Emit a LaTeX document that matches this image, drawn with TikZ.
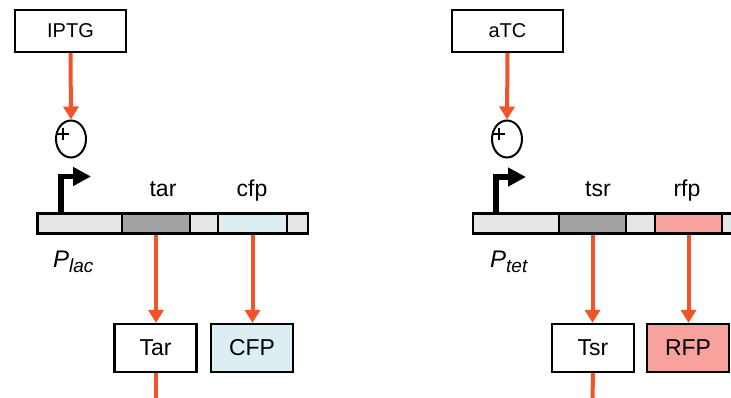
\documentclass[tikz,border=0pt]{standalone}
\usepackage{fontspec}
\setmainfont{Liberation Sans}
\usetikzlibrary{arrows.meta,shapes.geometric}
\definecolor{actarrow}{HTML}{F25327}
\definecolor{spacer}{HTML}{E6E6E6}
\definecolor{receptor}{HTML}{A3A3A3}
\definecolor{cfpfill}{HTML}{DDEEF3}
\definecolor{rfpfill}{HTML}{F7A29C}

\begin{document}
\begin{tikzpicture}[x=1pt,y=-1pt,
  inducer/.style={draw,line width=2.2pt,minimum width=111pt,minimum height=42pt,inner sep=0pt,
    font=\fontsize{20}{24}\selectfont},
  protein/.style={draw,line width=2.2pt,minimum width=82pt,minimum height=48pt,inner sep=0pt,
    font=\fontsize{23}{27}\selectfont},
  seg/.style={draw,line width=2.2pt,minimum height=20pt,inner sep=0pt,fill=spacer},
  genelabel/.style={anchor=base,inner sep=0pt,font=\fontsize{23}{27}\selectfont},
  promlabel/.style={anchor=base west,inner sep=0pt,font=\fontsize{24}{28}\selectfont\itshape},
  operator/.style={draw,ellipse,line width=2pt,minimum width=30pt,minimum height=37pt,inner sep=0pt},
  activate/.style={draw=actarrow,line width=4pt,-{Triangle[length=13pt,width=15pt]}},
  flow/.style={draw=actarrow,line width=4pt},
  promoter/.style={draw,line width=5.5pt,-{Triangle[length=18pt,width=18pt]}},
  plusmark/.style={draw,line width=2pt}
]
\clip (0,0) rectangle (731,397);

% ---------- lac module ----------
\node[inducer] (iptg) at (70.5,31) {IPTG};
\node[operator] (oplac) at (71,139) {};
\draw[plusmark] (57,134) -- (69,134) (63,128) -- (63,140);
\draw[activate] (iptg.south) -- (oplac.north);

\node[seg,minimum width=85pt] (plac) at (80,223.5) {};
\node[seg,minimum width=68pt,fill=receptor] (tar) at (156,223.5) {};
\node[seg,minimum width=28pt] (s1) at (204,223.5) {};
\node[seg,minimum width=69pt,fill=cfpfill] (cfp) at (252.5,223.5) {};
\node[seg,minimum width=21pt] (s2) at (297.5,223.5) {};

\coordinate (plactss) at (61,213);
\draw[promoter] (plactss) |- (91,176.5);

\node[genelabel] (tarlab) at (163,196) {tar};
\node[genelabel] (cfplab) at (252,196) {cfp};
\node[promlabel] (placlab) at (53,267) {P\raisebox{-5.5pt}{\fontsize{19}{22}\selectfont lac}};

\node[protein] (Tar) at (155.5,348) {Tar};
\node[protein,fill=cfpfill] (CFP) at (252,348) {CFP};
\draw[activate] (tar.south) -- (tar.south |- Tar.north);
\draw[activate] (cfp.south) -- (cfp.south |- CFP.north);
\coordinate (tarout) at (155.5,400);
\draw[flow] (Tar.south) -- (tarout);

% ---------- tet module ----------
\node[inducer] (atc) at (507.5,31) {aTC};
\node[operator] (optet) at (507,139) {};
\draw[plusmark] (493,134) -- (505,134) (499,128) -- (499,140);
\draw[activate] (atc.south) -- (optet.north);

\node[seg,minimum width=86pt] (ptet) at (516,223.5) {};
\node[seg,minimum width=67pt,fill=receptor] (tsr) at (592.5,223.5) {};
\node[seg,minimum width=29pt] (s3) at (640.5,223.5) {};
\node[seg,minimum width=67pt,fill=rfpfill] (rfp) at (688.5,223.5) {};
\node[seg,minimum width=20pt] (s4) at (732,223.5) {};

\coordinate (ptettss) at (496,213);
\draw[promoter] (ptettss) |- (526,177);

\node[genelabel] (tsrlab) at (598,196) {tsr};
\node[genelabel] (rfplab) at (687,196) {rfp};
\node[promlabel] (ptetlab) at (490,267) {P\raisebox{-5.5pt}{\fontsize{19}{22}\selectfont tet}};

\node[protein] (Tsr) at (593,348) {Tsr};
\node[protein,fill=rfpfill] (RFP) at (688,348) {RFP};
\draw[activate] (tsr.south) -- (tsr.south |- Tsr.north);
\draw[activate] (rfp.south) -- (rfp.south |- RFP.north);
\coordinate (tsrout) at (592.5,400);
\draw[flow] (Tsr.south) -- (tsrout);
\end{tikzpicture}
\end{document}
